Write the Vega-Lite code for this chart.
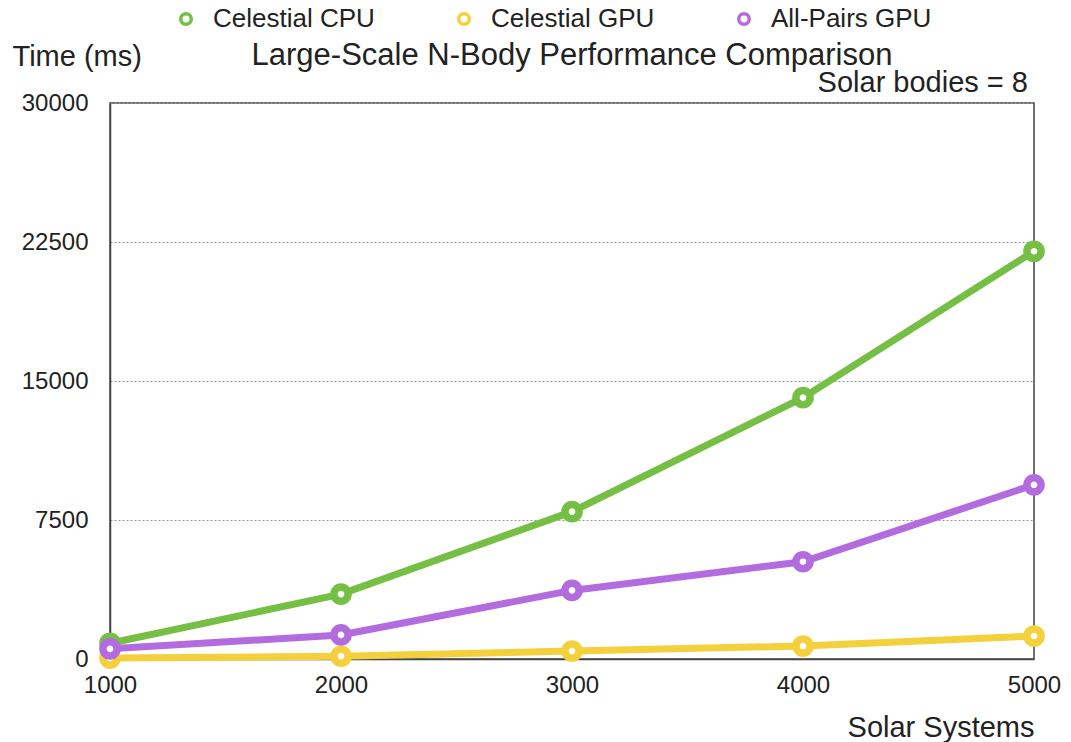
{
  "$schema": "https://vega.github.io/schema/vega-lite/v6.json",
  "width": 924,
  "height": 556,
  "autosize": {"type": "none"},
  "padding": {"left": 110, "top": 103, "right": 37, "bottom": 83},
  "background": "white",
  "config": {
    "font": "Liberation Sans",
    "view": {"stroke": "#444", "strokeWidth": 1.5},
    "axis": {"labelFont": "Liberation Sans", "titleFont": "Liberation Sans", "labelColor": "#222", "titleColor": "#222", "titleFontWeight": "normal"},
    "legend": {"labelFont": "Liberation Sans"}
  },
  "data": {
    "values": [
      {"systems": 1000, "series": "Celestial CPU", "time": 850},
      {"systems": 2000, "series": "Celestial CPU", "time": 3500},
      {"systems": 3000, "series": "Celestial CPU", "time": 7950},
      {"systems": 4000, "series": "Celestial CPU", "time": 14100},
      {"systems": 5000, "series": "Celestial CPU", "time": 22000},
      {"systems": 1000, "series": "Celestial GPU", "time": 50},
      {"systems": 2000, "series": "Celestial GPU", "time": 150},
      {"systems": 3000, "series": "Celestial GPU", "time": 430},
      {"systems": 4000, "series": "Celestial GPU", "time": 700},
      {"systems": 5000, "series": "Celestial GPU", "time": 1240},
      {"systems": 1000, "series": "All-Pairs GPU", "time": 550},
      {"systems": 2000, "series": "All-Pairs GPU", "time": 1300},
      {"systems": 3000, "series": "All-Pairs GPU", "time": 3700},
      {"systems": 4000, "series": "All-Pairs GPU", "time": 5250},
      {"systems": 5000, "series": "All-Pairs GPU", "time": 9400}
    ]
  },
  "encoding": {
    "x": {
      "field": "systems",
      "type": "quantitative",
      "scale": {"domain": [1000, 5000], "nice": false, "zero": false},
      "axis": {
        "values": [1000, 2000, 3000, 4000, 5000],
        "format": "d",
        "ticks": false,
        "grid": false,
        "domainColor": "#444",
        "domainWidth": 1.5,
        "labelFontSize": 24,
        "labelPadding": 14,
        "labelFlush": false,
        "title": "Solar Systems",
        "titleFontSize": 29,
        "titleAngle": 0,
        "titleAnchor": "end",
        "titleAlign": "right",
        "titleX": 924,
        "titleY": 77,
        "titleBaseline": "alphabetic"
      }
    },
    "y": {
      "field": "time",
      "type": "quantitative",
      "scale": {"domain": [0, 30000], "nice": false},
      "axis": {
        "values": [0, 7500, 15000, 22500, 30000],
        "format": "d",
        "ticks": false,
        "grid": true,
        "gridColor": "#999",
        "gridDash": [2, 2],
        "gridWidth": 1,
        "domainColor": "#444",
        "domainWidth": 1.5,
        "labelFontSize": 24,
        "labelPadding": 22,
        "title": "Time (ms)",
        "titleFontSize": 29,
        "titleAngle": 0,
        "titleAlign": "left",
        "titleBaseline": "alphabetic",
        "titleX": -98,
        "titleY": -38
      }
    },
    "color": {
      "field": "series",
      "type": "nominal",
      "scale": {
        "domain": ["Celestial CPU", "Celestial GPU", "All-Pairs GPU"],
        "range": ["#74bf44", "#f4d03c", "#b26ce0"]
      },
      "legend": {
        "title": null,
        "orient": "none",
        "direction": "horizontal",
        "legendX": 63,
        "legendY": -97,
        "symbolType": "circle",
        "symbolFillColor": "white",
        "symbolStrokeWidth": 3.5,
        "symbolSize": 110,
        "labelFontSize": 26,
        "labelColor": "#222",
        "labelOffset": 14,
        "columnPadding": 76,
        "labelLimit": 300
      }
    }
  },
  "layer": [
    {
      "mark": {"type": "line", "strokeWidth": 7},
      "encoding": {"order": {"field": "systems"}}
    },
    {
      "mark": {"type": "point", "shape": "circle", "filled": false, "fill": "white", "strokeWidth": 7.5, "size": 200, "opacity": 1}
    },
    {
      "data": {"values": [{"label": "Large-Scale N-Body Performance Comparison", "systems": 3000, "time": 30000}]},
      "mark": {"type": "text", "align": "center", "baseline": "alphabetic", "fontSize": 31, "color": "#222", "dy": -38},
      "encoding": {
        "text": {"field": "label"},
        "color": {"value": "#222"}
      }
    },
    {
      "data": {"values": [{"label": "Solar bodies = 8", "systems": 5000, "time": 30000}]},
      "mark": {"type": "text", "align": "right", "baseline": "alphabetic", "fontSize": 29, "color": "#222", "dx": -6, "dy": -11},
      "encoding": {
        "text": {"field": "label"},
        "color": {"value": "#222"}
      }
    }
  ]
}
